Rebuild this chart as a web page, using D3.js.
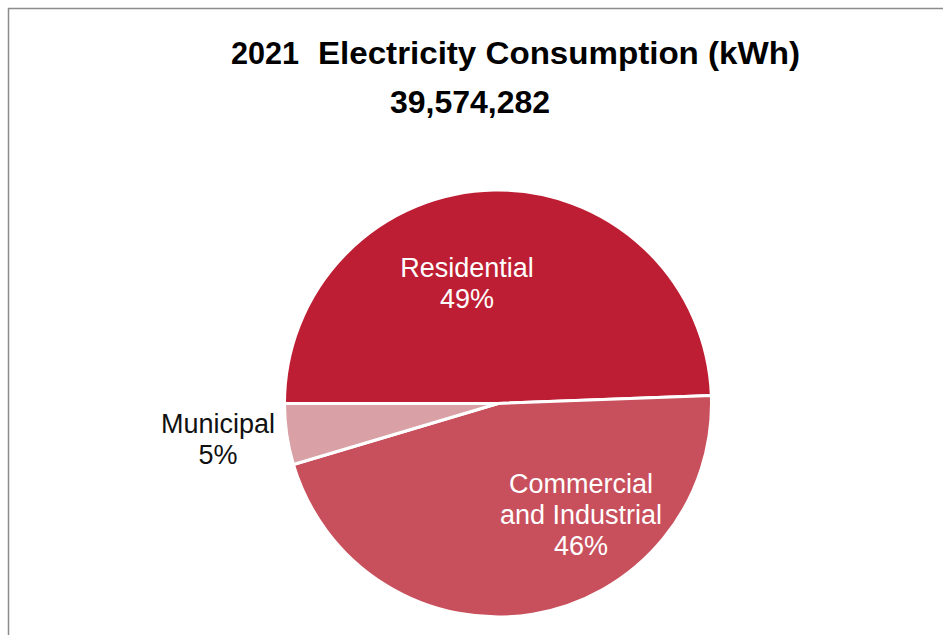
<!DOCTYPE html>
<html>
<head>
<meta charset="utf-8">
<script src="https://cdn.jsdelivr.net/npm/d3@7"></script>
<style>
  html, body { margin: 0; padding: 0; background: #fff; }
  svg { display: block; font-family: "Liberation Sans", Arial, sans-serif; }
</style>
</head>
<body>
<svg id="chart" width="943" height="635"></svg>
<script>
// Data
const categories = ["Residential", "Commercial and Industrial", "Municipal"];
const labelLines = [["Residential"], ["Commercial", "and Industrial"], ["Municipal"]];
const values = [19550000, 18200000, 1824282];   // kWh (estimated split)
const percentLabels = ["49%", "46%", "5%"];
const titleYear = "2021";
const titleText = "Electricity Consumption (kWh)";
const totalText = "39,574,282";

const colors = ["#BE1E33", "#C8505D", "#D9A1A5"];
const W = 943, H = 635;
const cx = 498, cy = 403.5, r = 213.5;

const svg = d3.select("#chart");

// frame
svg.append("path")
  .attr("d", `M8.5,${H} L8.5,8.5 L${W},8.5`)
  .attr("fill", "none").attr("stroke", "#8c8c8c").attr("stroke-width", 1.5);

const pie = d3.pie().sort(null).value(d => d)
  .startAngle(-Math.PI / 2).endAngle(Math.PI * 1.5);
const arcs = pie(values);
const arc = d3.arc().innerRadius(0).outerRadius(r);

const g = svg.append("g").attr("transform", `translate(${cx},${cy})`);
g.selectAll("path.slice").data(arcs).enter().append("path")
  .attr("class", "slice")
  .attr("d", arc)
  .attr("fill", (d, i) => colors[i])
  .attr("stroke", "#fff").attr("stroke-width", 3).attr("stroke-linejoin", "round");

// labels
const labelPos = [
  { x: 467, y: 277, color: "#fff" },
  { x: 581, y: 493, color: "#fff" },
  { x: 218, y: 433, color: "#111" }
];
const lh = 31;
arcs.forEach((a, i) => {
  const p = labelPos[i];
  const t = svg.append("text")
    .attr("text-anchor", "middle")
    .attr("font-size", 27)
    .attr("fill", p.color);
  const lines = labelLines[i].concat([percentLabels[i]]);
  lines.forEach((ln, j) => {
    t.append("tspan").attr("x", p.x).attr("y", p.y + j * lh).text(ln);
  });
});

// titles
svg.append("text")
  .attr("x", 231).attr("y", 64)
  .attr("font-size", 31).attr("font-weight", "bold").attr("fill", "#000")
  .attr("textLength", 68).attr("lengthAdjust", "spacingAndGlyphs")
  .text(titleYear);
svg.append("text")
  .attr("x", 318).attr("y", 64)
  .attr("font-size", 31).attr("font-weight", "bold").attr("fill", "#000")
  .attr("textLength", 482).attr("lengthAdjust", "spacingAndGlyphs")
  .text(titleText);

svg.append("text")
  .attr("x", 470).attr("y", 113)
  .attr("text-anchor", "middle")
  .attr("font-size", 32).attr("font-weight", "bold").attr("fill", "#000")
  .text(totalText);
</script>
</body>
</html>
